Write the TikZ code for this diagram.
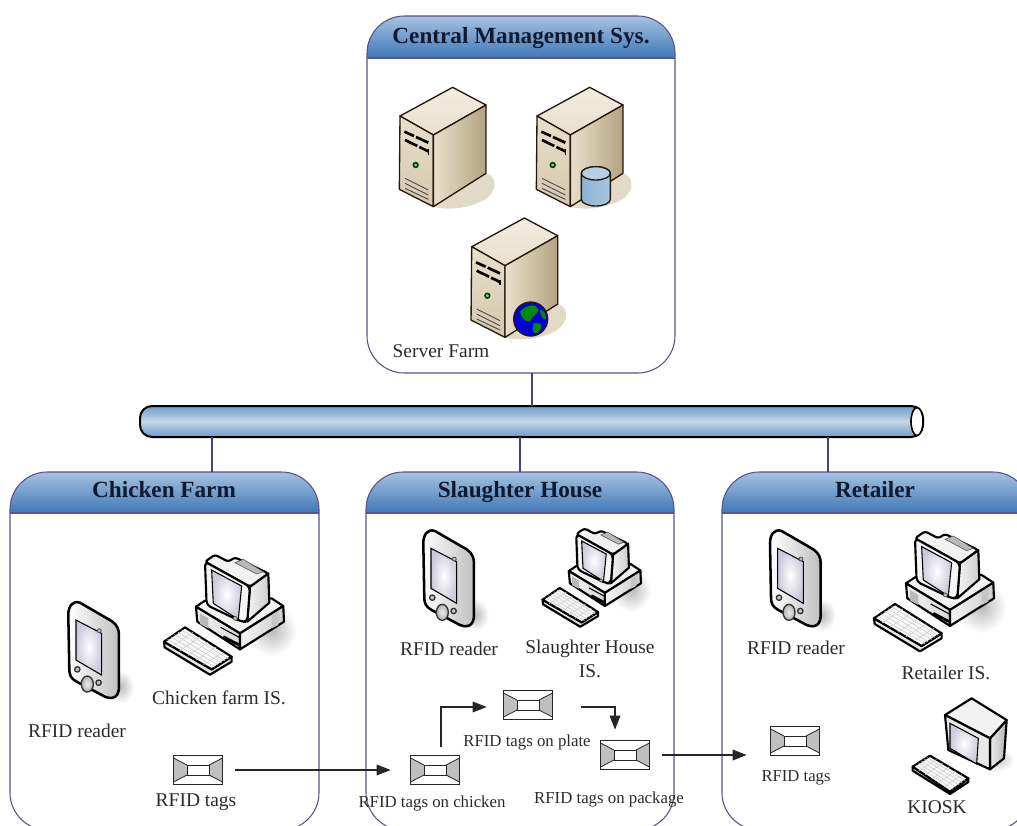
\documentclass[tikz,border=0pt]{standalone}
\usepackage{fontspec}
\setmainfont{Liberation Serif}
\usetikzlibrary{arrows.meta}
\definecolor{edgeblue}{HTML}{55558F}
\definecolor{headtop}{HTML}{A6C2DF}
\definecolor{headbot}{HTML}{3F78B8}
\definecolor{inkc}{HTML}{2B2B2B}
\definecolor{titlec}{HTML}{0F1A30}
\definecolor{creamA}{HTML}{F3EDE0}
\definecolor{creamB}{HTML}{E8E0CC}
\definecolor{creamC}{HTML}{D3C8AE}
\definecolor{creamD}{HTML}{B5A37F}
\definecolor{creamS}{HTML}{E2DAC6}
\definecolor{cylL}{HTML}{8FB3D6}
\definecolor{cylM}{HTML}{EAF2F8}
\definecolor{cylR}{HTML}{A9C5DE}
\definecolor{cylT}{HTML}{B5CFE6}
\definecolor{tubeE}{HTML}{6E9BCC}
\definecolor{tubeM}{HTML}{C6D7E6}
\tikzset{
  x=.75pt,y=-.75pt,
  panelbox/.style={draw=edgeblue,line width=.8pt,rounded corners=28pt,inner sep=0pt,outer sep=0pt,anchor=north west},
  headline/.style={draw=edgeblue,line width=1pt},
  paneltitle/.style={font=\fontsize{17.4}{20}\selectfont\bfseries,text=titlec,inner sep=0pt},
  lab/.style={font=\fontsize{14.6}{17}\selectfont,text=inkc,inner sep=0pt,align=center},
  labs/.style={font=\fontsize{12.6}{15}\selectfont,text=inkc,inner sep=0pt},
  labt/.style={font=\fontsize{12.5}{15}\selectfont,text=inkc,inner sep=0pt},
  link/.style={draw=edgeblue!80!black,line width=.8pt},
  flow/.style={draw=black!85,line width=.8pt,-{Triangle[length=10.5pt,width=8pt]}},
  heavy outline/.style={draw=black,line width=1.6pt,line join=round},
  fine outline/.style={draw=black!80!brown,line width=1pt,line join=round},
  tagbox/.style={draw=black!85,line width=.8pt,minimum width=36.5pt,minimum height=21.5pt,inner sep=0pt,outer sep=0pt,
    path picture={
      \begin{scope}[shift={(path picture bounding box.center)}]
        \fill[gray!50] (-24.5,-12)--(-11,-5)--(-11,5)--(-24.5,12)--cycle;
        \fill[gray!50] (24.5,-12)--(11,-5)--(11,5)--(24.5,12)--cycle;
        \draw[black!85,line width=.7pt] (-11,-5) rectangle (11,5);
        \draw[black!85,line width=.6pt] (-24.5,-12)--(-11,-5) (24.5,-12)--(11,-5) (-24.5,12)--(-11,5) (24.5,12)--(11,5);
      \end{scope}}},
  serverbody/.pic={
    \begin{scope}[x=.25pt,y=-.25pt]
      \fill[creamS] (100,272) -- (258,172) .. controls (290,180) and (295,225) .. (255,250) .. controls (215,275) and (150,285) .. (100,272) -- cycle;
      \shadedraw[fine outline,top color=creamA,bottom color=creamB] (0,0)--(158,-86)--(258,-33)--(100,57)--cycle;
      \shadedraw[fine outline,top color=creamB,bottom color=creamC] (0,0)--(100,57)--(100,272)--(-2,220)--cycle;
      \shadedraw[fine outline,left color=creamB,right color=creamD] (100,57)--(258,-33)--(258,172)--(100,272)--cycle;
      \draw[black,line width=2pt] (13,47)--(42,60) (48,63)--(85,80);
      \draw[black,line width=2pt] (15,72)--(52,90) (58,93)--(85,106);
      \draw[black,line width=1pt] (85,100)--(85,116);
      \filldraw[fill=green!30!gray!60,draw=green!25!black,line width=1.2pt] (47,147) circle (7);
      \draw[black!70,line width=.7pt] (15,187)--(85,222) (15,202)--(85,237) (15,217)--(85,250);
    \end{scope}},
  dbdisk/.pic={
    \begin{scope}[x=.25pt,y=-.25pt]
      \shadedraw[fine outline,left color=cylL,middle color=cylM,right color=cylR]
        (133,172) -- (133,250) arc[start angle=180,end angle=0,x radius=43.5,y radius=20] -- (220,172) arc[start angle=0,end angle=-180,x radius=43.5,y radius=20] -- cycle;
      \filldraw[fine outline,fill=cylT] (176.5,172) ellipse[x radius=43.5,y radius=20];
    \end{scope}},
  globemark/.pic={
    \begin{scope}[x=.25pt,y=-.25pt]
      \filldraw[fine outline,fill=blue!85!black] (177,217) circle (51);
      \fill[green!55!black] (145,195) .. controls (165,172) and (195,170) .. (200,190) .. controls (195,210) and (180,205) .. (175,225) .. controls (160,225) and (150,215) .. (145,195) -- cycle;
      \fill[green!55!black] (185,230) .. controls (205,225) and (215,235) .. (205,250) .. controls (198,262) and (185,262) .. (183,250) -- cycle;
      \fill[green!55!black] (205,190) .. controls (218,190) and (225,205) .. (222,218) .. controls (212,218) and (205,205) .. (205,190) -- cycle;
    \end{scope}},
  pda/.pic={
    \begin{scope}[x=.25pt,y=-.25pt]
      \shade[inner color=gray!55,outer color=white] (155,255) ellipse[x radius=42,y radius=50];
      \shadedraw[draw=black,line width=1.9pt,line join=round,left color=white,right color=gray!50]
        (0,40) .. controls (0,15) and (12,-5) .. (35,3) -- (130,58) .. controls (148,70) and (152,85) .. (152,100)
        -- (152,255) .. controls (152,285) and (135,295) .. (110,285) -- (25,240) .. controls (8,230) and (3,222) .. (3,200) -- cycle;
      \shadedraw[draw=black,line width=.8pt,inner color=white,outer color=blue!18!gray!35] (23,55)--(100,95)--(100,220)--(23,175)--cycle;
      \filldraw[draw=black!70,fill=gray!55,line width=.6pt] (93,87) circle (6);
      \filldraw[draw=black!80,fill=gray!45,line width=1pt] (27,203) circle (8);
      \filldraw[draw=black!80,fill=gray!45,line width=1pt] (91,243) circle (8);
      \shadedraw[draw=black!80,line width=1pt,inner color=gray!15,outer color=gray!60] (57,247) ellipse[x radius=18,y radius=24];
    \end{scope}},
  pc/.pic={
    \begin{scope}[x=.25pt,y=-.25pt,shift={(-10,-20)}]
      \shade[inner color=gray!55,outer color=white] (335,240) ellipse[x radius=75,y radius=78];
      % base
      \filldraw[heavy outline,fill=gray!10] (108,170)--(135,152)--(335,145)--(370,168)--(240,250)--cycle;
      \shadedraw[heavy outline,left color=gray!12,right color=gray!30] (108,170)--(240,250)--(240,298)--(112,215)--cycle;
      \shadedraw[heavy outline,left color=gray!8,right color=gray!40] (240,250)--(370,168)--(372,215)--(240,298)--cycle;
      \fill[gray!55] (120,190)--(145,205)--(145,235)--(120,222)--cycle;
      \fill[gray!45] (335,195)--(355,185)--(355,225)--(335,235)--cycle;
      \draw[black,line width=.8pt] (182,232)--(238,262);
      \draw[black,line width=2pt] (190,260)--(238,285);
      % monitor
      \shadedraw[heavy outline,left color=gray!8,right color=gray!40] (270,110)--(325,70)--(328,158)--(262,215)--cycle;
      \filldraw[heavy outline,fill=gray!10,rounded corners=2pt] (135,35)--(165,14)--(205,35)--(225,22)--(325,70)--(270,110)--cycle;
      \filldraw[draw=gray!60!black,fill=gray!55,line width=.4pt] (225,38)--(250,28)--(310,65)--(290,72)--cycle;
      \filldraw[heavy outline,fill=gray!8,rounded corners=3pt] (135,35)--(270,110)--(262,215)--(245,215)--(140,165)--cycle;
      \shadedraw[draw=black,line width=.8pt,inner color=white,outer color=blue!18!gray!35] (155,60)--(245,108)--(235,208)--(160,160)--cycle;
      \filldraw[draw=black!70,fill=gray!50,line width=.5pt] (226,205) circle (6);
      % keyboard
      \filldraw[heavy outline,fill=gray!20] (12,275)--(14,292)--(150,374)--(215,335)--(215,320)--(155,358)--cycle;
      \filldraw[heavy outline,fill=gray!6] (12,275)--(75,232)--(215,320)--(155,358)--cycle;
      \foreach \t in {.17,.33,.5,.67,.83}{
        \draw[gray!40,line width=.4pt] ({12+143*\t},{275+83*\t})--({75+140*\t},{232+88*\t});
        \draw[gray!40,line width=.4pt] ({12+63*\t},{275-43*\t})--({155+60*\t},{358-38*\t});}
    \end{scope}},
  kiosk/.pic={
    \begin{scope}[x=.25pt,y=-.25pt]
      \shade[inner color=gray!45,outer color=white] (890,1110) ellipse[x radius=55,y radius=35];
      \shadedraw[heavy outline,left color=gray!15,right color=gray!60] (870,1045)--(920,990)--(912,1105)--(870,1138)--cycle;
      \filldraw[heavy outline,fill=gray!10] (735,975)--(815,925)--(920,990)--(870,1045)--cycle;
      \filldraw[heavy outline,fill=gray!18] (735,975)--(870,1045)--(870,1138)--(745,1080)--cycle;
      \shadedraw[draw=black,line width=.8pt,inner color=white,outer color=blue!18!gray!35] (750,1000)--(835,1045)--(830,1122)--(750,1075)--cycle;
      \filldraw[heavy outline,fill=gray!20] (638,1130)--(638,1142)--(750,1212)--(805,1176)--(805,1165)--(750,1205)--cycle;
      \filldraw[heavy outline,fill=gray!6] (638,1130)--(690,1097)--(805,1165)--(750,1205)--cycle;
      \foreach \t in {.17,.33,.5,.67,.83}{
        \draw[gray!40,line width=.4pt] ({638+112*\t},{1130+75*\t})--({690+115*\t},{1097+68*\t});
        \draw[gray!40,line width=.4pt] ({638+52*\t},{1130-33*\t})--({750+55*\t},{1205-40*\t});}
    \end{scope}},
}
\newcommand{\mkpanel}[7]{%
  \begin{scope}
    \clip[rounded corners=28pt] (#2,#3) rectangle ++(#4,#5);
    \shade[top color=headtop,bottom color=headbot] (#2,#3) rectangle ({#2+#4},#6);
  \end{scope}
  \draw[headline] (#2,#6) -- ({#2+#4},#6);
  \node[panelbox,minimum width=#4*.75pt,minimum height=#5*.75pt] (#1) at (#2,#3) {};
  \node[paneltitle] (#1title) at (#7) {\vphantom{y}\csname paneltitle#1\endcsname};
}
\expandafter\def\csname paneltitlecentral\endcsname{Central Management Sys.}
\expandafter\def\csname paneltitlefarm\endcsname{Chicken Farm}
\expandafter\def\csname paneltitleslaughter\endcsname{Slaughter House}
\expandafter\def\csname paneltitleretail\endcsname{Retailer}
\begin{document}
\begin{tikzpicture}
\useasboundingbox (0,0) rectangle (1017,825);
\clip (0,0) rectangle (1017,825);
\fill[white] (0,0) rectangle (1017,825);

% panels
\mkpanel{central}{367}{16}{308}{357}{58}{521,38}
\mkpanel{farm}{10}{472}{309}{358}{513}{164,492}
\mkpanel{slaughter}{366}{472}{308}{358}{513}{520,492}
\mkpanel{retail}{722}{472}{308}{358}{513}{875,492}

% tube
\shade[top color=tubeE,bottom color=tubeE,middle color=tubeM,rounded corners=9pt] (140,406) rectangle (923,437);
\node[draw=black,line width=1.5pt,rounded corners=9pt,minimum width=587.25pt,minimum height=23.25pt,inner sep=0pt,outer sep=0pt,anchor=north west] (tube) at (140,406) {};
\filldraw[draw=black,line width=1.2pt,fill=white] (917,421.5) ellipse[x radius=6,y radius=14];

% links to the tube
\coordinate (jc) at (532,373);
\coordinate (jf) at (212,472);
\coordinate (js) at (520,472);
\coordinate (jr) at (828,472);
\draw[link] (jc) -- (jc |- tube.north);
\draw[link] (jf) -- (jf |- tube.south);
\draw[link] (js) -- (js |- tube.south);
\draw[link] (jr) -- (jr |- tube.south);

% servers
\pic at (400,116) {serverbody};
\pic at (537,116) {serverbody};
\pic at (537,116) {dbdisk};
\pic at (471.7,246.7) {serverbody};
\pic at (471.7,246.7) {globemark};

% devices
\pic at (68.3,601.7) {pda};
\pic at (163.3,556.7) {pc};
\pic at (423.3,530) {pda};
\pic[scale=.82] at (542,530) {pc};
\pic at (770,530) {pda};
\pic at (873.3,533.3) {pc};
\pic at (700,390) {kiosk};

% tags
\node[tagbox] (t1) at (198,770) {};
\node[tagbox] (t2) at (435,770) {};
\node[tagbox] (t3) at (528,705) {};
\node[tagbox] (t4) at (625,755) {};
\node[tagbox] (t5) at (795,741) {};

% flows
\draw[flow] ([shift={(13,0)}]t1.east) -- ([shift={(-20,0)}]t2.west);
\draw[flow] ([shift={(6,-9)}]t2.north) |- ([shift={(-17,2)}]t3.west);
\draw[flow] ([shift={(29,2)}]t3.east) -| ([shift={(-10,-11)}]t4.north);
\draw[flow] ([shift={(13,0)}]t4.east) -- ([shift={(-24,14)}]t5.west);

% labels
\node[lab] (l1) at (441,351) {Server Farm};
\node[lab] (l2) at (77,731) {RFID reader};
\node[lab] (l3) at (219,698) {Chicken farm IS.};
\node[lab] (l4) at (196,802) {RFID tags};
\node[lab] (l5) at (449,649) {RFID reader};
\node[lab] (l6) at (590,659) {Slaughter House\\[1pt]IS.};
\node[labs] (l7) at (432,803) {RFID tags on chicken};
\node[labs] (l8) at (527,742) {RFID tags on plate};
\node[labs] (l9) at (609,799) {RFID tags on package};
\node[lab] (l10) at (796,648) {RFID reader};
\node[lab] (l11) at (946,673) {Retailer IS.};
\node[labt] (l12) at (796,778) {RFID tags};
\node[lab] (l13) at (937,807) {KIOSK};
\end{tikzpicture}
\end{document}
